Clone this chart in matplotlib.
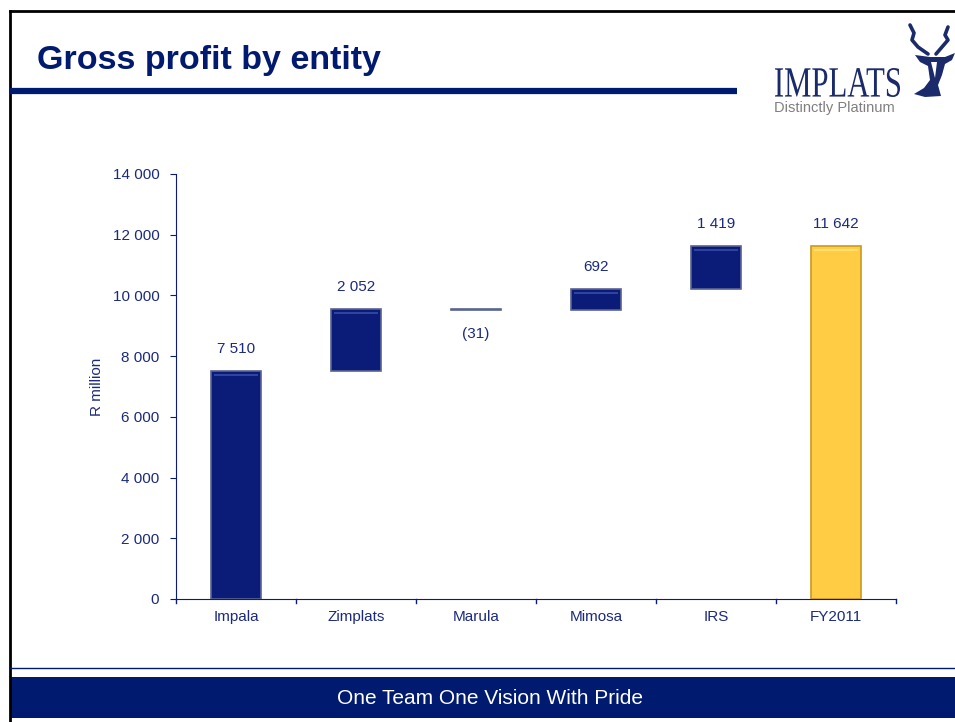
import matplotlib
matplotlib.use("Agg")
import matplotlib.pyplot as plt
from matplotlib.patches import Rectangle, PathPatch, Polygon
from matplotlib.textpath import TextPath
from matplotlib.font_manager import FontProperties
from matplotlib.transforms import Affine2D
import numpy as np

# ======== data ========
entities = ['Impala', 'Zimplats', 'Marula', 'Mimosa', 'IRS', 'FY2011']
changes = [7510, 2052, -31, 692, 1419]
total = 11642
labels = ['7 510', '2 052', '(31)', '692', '1 419', '11 642']
yticks = [0, 2000, 4000, 6000, 8000, 10000, 12000, 14000]
ytick_labels = ['0', '2 000', '4 000', '6 000', '8 000', '10 000', '12 000', '14 000']

plt.rcParams['font.family'] = ['Liberation Sans', 'DejaVu Sans']

NAVY = '#0A1C78'
TXT = '#1B2A7E'
GOLD = '#FFCC44'
FS = 11

W, H = 955, 722
fig = plt.figure(figsize=(W / 100, H / 100), dpi=100)
fig.patch.set_facecolor('white')


def px(x, y):
    # pixel coords (from top-left) -> figure fraction
    return x / W, 1 - y / H


# ======== slide frame ========
fig.add_artist(plt.Line2D([10 / W, 1], [1 - 11 / H] * 2, color='black', lw=2))
fig.add_artist(plt.Line2D([10 / W] * 2, [0, 1 - 11 / H], color='black', lw=2))
fig.add_artist(plt.Line2D([10 / W, 737 / W], [1 - 91 / H] * 2, color='#001A70', lw=4.5,
                          solid_capstyle='butt'))
fig.text(*px(37, 61), 'Gross profit by entity', fontsize=24.5, fontweight='bold',
         color='#001A70', va='center', ha='left')

# footer
fig.add_artist(plt.Line2D([10 / W, 1], [1 - 668 / H] * 2, color='#001A70', lw=1))
fig.add_artist(Rectangle(px(10, 718), (W - 10) / W, 41 / H, transform=fig.transFigure,
                         color='#001A70', lw=0))
fig.text(*px(490, 698), 'One Team One Vision With Pride', fontsize=15, color='white',
         ha='center', va='center')

# ======== logo ========
fp = FontProperties(family='Liberation Serif')
tp = TextPath((0, 0), 'IMPLATS', size=1, prop=fp)
bb = tp.get_extents()
sx = 125 / bb.width
sy = 29 / bb.height
tr = Affine2D().translate(-bb.x0, -bb.y0).scale(sx, sy).translate(775, H - 97)
logo_ax = fig.add_axes([0, 0, 1, 1], zorder=5)
logo_ax.set_xlim(0, W)
logo_ax.set_ylim(0, H)
logo_ax.axis('off')
LOGO = '#1A2A6A'
logo_ax.add_patch(PathPatch(tr.transform_path(tp), color=LOGO, lw=0))
logo_ax.text(774, H - 108, 'Distinctly Platinum', fontsize=10.5, color='#7F7F7F',
             va='center', ha='left')
# antelope head (rough sketch)
head = [(915, 55), (930, 57), (945, 57), (955, 53), (952, 60), (945, 64), (942, 75),
        (938, 85), (941, 96), (925, 97), (914, 94), (924, 88), (930, 80), (928, 66),
        (920, 62)]
logo_ax.add_patch(Polygon([(a, H - b) for a, b in head], closed=True, color=LOGO, lw=0))
logo_ax.add_patch(Polygon([(931, H - 62), (937, H - 62), (935, H - 78)], closed=True,
                          color='white', lw=0))
lh = [(910, 25), (914, 33), (912, 40), (918, 47), (928, 54)]
rh = [(948, 27), (945, 35), (948, 40), (942, 47), (936, 54)]
for horn in (lh, rh):
    logo_ax.plot([a for a, b in horn], [H - b for a, b in horn], color=LOGO, lw=2.6,
                 solid_capstyle='round', solid_joinstyle='round')

# ======== chart ========
ax = fig.add_axes([176 / W, 123 / H, 720 / W, 425 / H])
x = np.arange(len(entities))
bottoms = []
heights = []
run = 0
for c in changes:
    if c >= 0:
        bottoms.append(run)
        heights.append(c)
    else:
        bottoms.append(run + c)
        heights.append(-c)
    run += c
bottoms.append(0)
heights.append(total)
colors = [NAVY] * len(changes) + [GOLD]
edges = ['#5A6494'] * len(changes) + ['#C89A20']

bw = 0.41
ax.bar(x, heights, bottom=bottoms, width=bw, color=colors, edgecolor=edges, lw=1.2, zorder=3)
# bevel highlight at the top of each bar
for i in range(len(x)):
    hl = min(heights[i] * 0.25, 180)
    if heights[i] > 60:
        col = '#2F44A0' if i < len(changes) else '#FFE070'
        ax.bar(x[i], hl * 0.4, bottom=bottoms[i] + heights[i] - hl, width=bw * 0.88,
               color=col, lw=0, zorder=4)

# value labels
run = 0
for i, c in enumerate(changes):
    top = run + max(c, 0)
    if c >= 0:
        ax.text(x[i], top + 480, labels[i], ha='center', va='bottom', fontsize=FS, color=TXT)
    else:
        ax.text(x[i], run + c - 580, labels[i], ha='center', va='top', fontsize=FS, color=TXT)
    run += c
ax.text(x[-1], total + 480, labels[-1], ha='center', va='bottom', fontsize=FS, color=TXT)

ax.set_xlim(-0.5, len(entities) - 0.5)
ax.set_ylim(0, 14000)
ax.set_yticks(yticks)
ax.set_yticklabels(ytick_labels, fontsize=FS, color=TXT)
ax.set_xticks(x)
ax.set_xticklabels(entities, fontsize=FS, color=TXT)
ax.tick_params(axis='x', length=0, pad=8)
ax.tick_params(axis='y', length=4, color=NAVY, pad=8)
# separators between categories on x axis
for b in np.arange(0.5, len(entities), 1.0):
    ax.plot([b, b], [0, -120], color=NAVY, lw=1, clip_on=False)
ax.plot([-0.5, -0.5], [0, -120], color=NAVY, lw=1, clip_on=False)
ax.set_ylabel('R million', fontsize=FS, color=TXT, labelpad=6)
for s in ['top', 'right']:
    ax.spines[s].set_visible(False)
for s in ['left', 'bottom']:
    ax.spines[s].set_color(NAVY)
ax.set_facecolor('none')

fig.savefig('out.png', dpi=100)
